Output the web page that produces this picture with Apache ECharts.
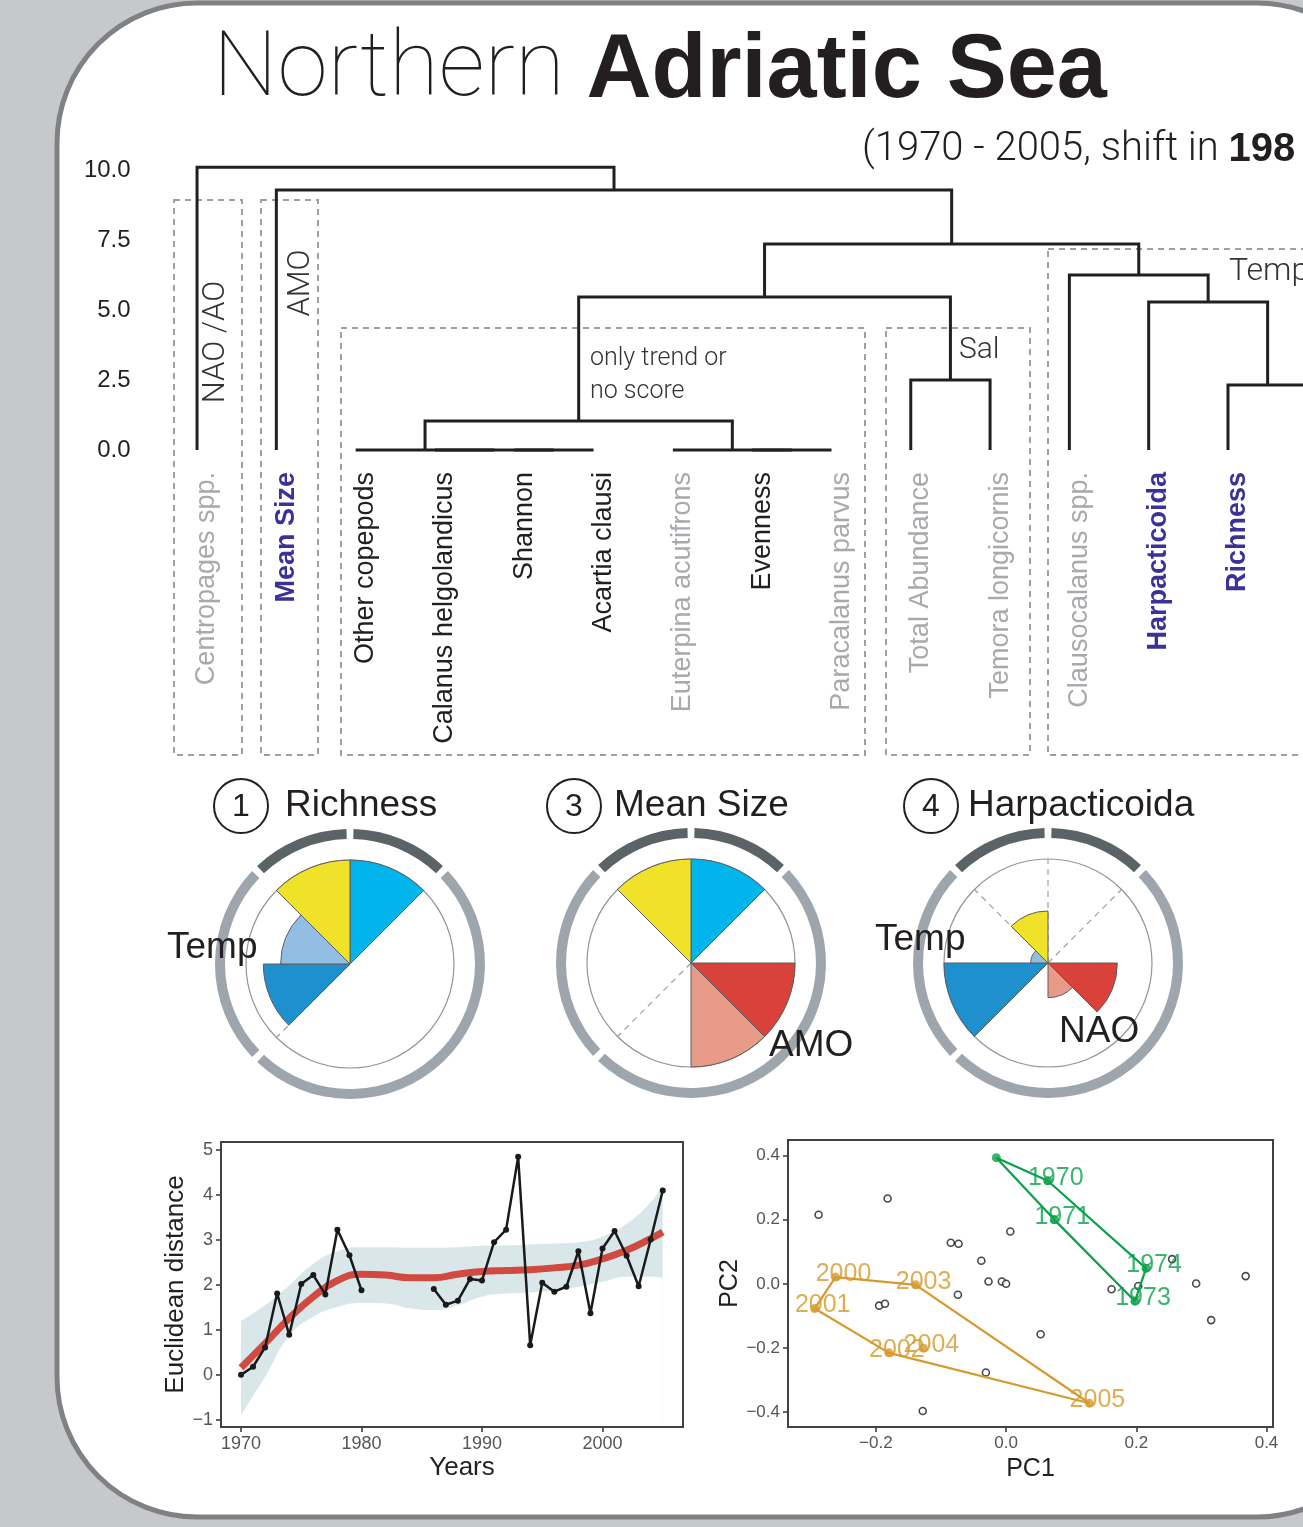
<!DOCTYPE html>
<html>
<head>
<meta charset="utf-8">
<script src="https://cdn.jsdelivr.net/npm/echarts@6/dist/echarts.min.js"></script>
<style>
  html, body { margin: 0; padding: 0; background: #c7c8ca; }
  #main { width: 1303px; height: 1527px; }
</style>
</head>
<body>
<div id="main"></div>
<script>
// ---- dendrogram ----
const leafNames = ['Centropages spp.', 'Mean Size', 'Other copepods', 'Calanus helgolandicus', 'Shannon',
  'Acartia clausi', 'Euterpina acutifrons', 'Evenness', 'Paracalanus parvus', 'Total Abundance',
  'Temora longicornis', 'Clausocalanus spp.', 'Harpacticoida', 'Richness', ''];
const leafKind = ['grey', 'blue', 'black', 'black', 'black', 'black', 'grey', 'black', 'grey', 'grey',
  'grey', 'grey', 'blue', 'blue', 'black'];
// [left, right, height]; numbers are leaves, 'mK' is the K-th merge
const merges = [
  [4, 5, 0], [3, 'm0', 0], [2, 'm1', 0], [7, 8, 0], [6, 'm3', 0],
  ['m2', 'm4', 1.04], [9, 10, 2.5], ['m5', 'm6', 5.46], [13, 14, 2.32], [12, 'm8', 5.29],
  [11, 'm9', 6.25], ['m7', 'm10', 7.36], [1, 'm11', 9.29], [0, 'm12', 10.1]
];
const heightTicks = [0, 2.5, 5, 7.5, 10];

// ---- rose plots (8 sectors clockwise from north, scale 0-6) ----
const roseTitles = ['Richness', 'Mean Size', 'Harpacticoida'];
const roseNumbers = ['1', '3', '4'];
const roseRichness = [6, 0, 0, 0, 0, 5, 4, 6];
const roseMeanSize = [6, 0, 6, 6, 0, 0, 0, 6];
const roseHarpacticoida = [0, 0, 4, 2, 0, 6, 1, 3];
const roseDashed = [[225], [225], [0, 45, 315]];
const ringSectors = [1, 4, 2, 1];

// ---- Euclidean distance ----
const years = [1970, 1971, 1972, 1973, 1974, 1975, 1976, 1977, 1978, 1979, 1980, 1981, 1982, 1983, 1984, 1985,
  1986, 1987, 1988, 1989, 1990, 1991, 1992, 1993, 1994, 1995, 1996, 1997, 1998, 1999, 2000, 2001, 2002, 2003, 2004, 2005];
const distance = [0, 0.18, 0.61, 1.81, 0.89, 2.02, 2.22, 1.79, 3.23, 2.66, 1.88, null, null, null, null, null,
  1.91, 1.56, 1.65, 2.13, 2.10, 2.95, 3.23, 4.85, 0.66, 2.05, 1.85, 1.96, 2.75, 1.37, 2.81, 3.20, 2.65, 1.97, 3.01, 4.10];
const smoothYears = [1970, 1972, 1974, 1976, 1978, 1980, 1982, 1984, 1986, 1988, 1990, 1992, 1994, 1996, 1998, 2000, 2002, 2004, 2005];
const smoothFit = [0.16, 0.70, 1.26, 1.74, 2.10, 2.24, 2.22, 2.16, 2.16, 2.24, 2.30, 2.32, 2.34, 2.38, 2.44, 2.58, 2.77, 3.03, 3.18];
const bandHigh = [1.20, 1.55, 1.99, 2.47, 2.75, 2.84, 2.84, 2.83, 2.83, 2.84, 2.87, 2.88, 2.90, 2.92, 2.95, 3.08, 3.36, 3.84, 4.21];
const bandLow = [-0.89, -0.04, 0.86, 1.29, 1.51, 1.60, 1.59, 1.48, 1.44, 1.55, 1.74, 1.81, 1.83, 1.88, 1.96, 2.07, 2.18, 2.18, 2.16];
const distYTicks = [-1, 0, 1, 2, 3, 4, 5];
const distXTicks = [1970, 1980, 1990, 2000];

// ---- PCA ----
const otherPC = [[-0.288, 0.215], [-0.182, 0.266], [-0.085, 0.128], [-0.073, 0.125], [0.0065, 0.163],
  [-0.038, 0.072], [-0.027, 0.007], [-0.0065, 0.007], [0.0, 0.0], [-0.074, -0.034], [-0.195, -0.068],
  [-0.186, -0.062], [0.053, -0.157], [-0.031, -0.276], [-0.128, -0.396], [0.162, -0.017], [0.203, -0.007],
  [0.255, 0.077], [0.292, 0.001], [0.315, -0.113], [0.368, 0.024]];
const earlyYears = ['1970', '1971', '1972', '1973', '1974'];
const earlyLabels = ['1970', '1971', '', '1973', '1974'];
const earlyPC1 = [0.064, 0.074, -0.015, 0.198, 0.215];
const earlyPC2 = [0.321, 0.200, 0.393, -0.054, 0.048];
const earlyHull = ['1972', '1970', '1974', '1973', '1971'];
const lateYears = ['2000', '2001', '2002', '2003', '2004', '2005'];
const latePC1 = [-0.262, -0.294, -0.180, -0.139, -0.127, 0.128];
const latePC2 = [0.021, -0.077, -0.215, -0.003, -0.201, -0.372];
const lateHull = ['2000', '2003', '2005', '2002', '2001'];
const pcXTicks = [-0.2, 0, 0.2, 0.4];
const pcYTicks = [-0.4, -0.2, 0, 0.2, 0.4];

// ---------------------------------------------------------------
const ink = '#231f20';
const sans = 'Liberation Sans, Arial, sans-serif';
const light = 'Roboto, sans-serif';
const sectorColors = ['#00b5ec', '#cccccc', '#d9423a', '#e99b89', '#cccccc', '#1e90cd', '#93bee3', '#efe228'];
const ringColors = ['#5b6367', '#9ea5ac', '#9ea5ac', '#5b6367'];
const leafColors = { grey: '#a7a9ac', black: ink, blue: '#3b3199' };
const fmtMinus = (v, d) => (v < 0 ? '\u2212' : '') + Math.abs(v).toFixed(d);

// dendrogram links from the merge table
const nodes = [];
const nodeOf = r => (typeof r === 'number' ? { x: r, h: 0 } : nodes[+r.slice(1)]);
const dendroLinks = merges.map(([a, b, h]) => {
  const A = nodeOf(a), B = nodeOf(b);
  nodes.push({ x: (A.x + B.x) / 2, h });
  return { coords: [[A.x, A.h], [A.x, h], [B.x, h], [B.x, B.h]] };
});

const roses = [roseRichness, roseMeanSize, roseHarpacticoida];
const roseCenters = [[350, 964], [691, 963], [1048, 963]];
const titleCircles = [[241, 806], [574, 806], [931, 806]];
const titleLeft = [285, 614, 968];

const polar = [], angleAxis = [], radiusAxis = [], series = [];
const hidden = { axisLine: { show: false }, axisTick: { show: false }, axisLabel: { show: false }, splitLine: { show: false } };

roses.forEach((vals, k) => {
  polar.push({ center: roseCenters[k], radius: 104 });
  angleAxis.push(Object.assign({}, hidden, {
    polarIndex: k, type: 'category', data: vals.map((_, i) => 's' + i), startAngle: 90, clockwise: true,
    axisLine: { show: true, lineStyle: { color: '#8f959a', width: 1.2 } }
  }));
  radiusAxis.push(Object.assign({}, hidden, { polarIndex: k, type: 'value', min: 0, max: 6 }));
});
roses.forEach((vals, k) => {
  polar.push({ center: roseCenters[k], radius: 104 });
  angleAxis.push(Object.assign({}, hidden, { polarIndex: k + 3, type: 'value', min: 0, max: 360, startAngle: 90, clockwise: true }));
  radiusAxis.push(Object.assign({}, hidden, { polarIndex: k + 3, type: 'value', min: 0, max: 6 }));
});

roses.forEach((vals, k) => {
  roseDashed[k].forEach(a => {
    series.push({
      type: 'line', coordinateSystem: 'polar', polarIndex: k + 3, silent: true, symbol: 'none', z: 1,
      data: [[0, a], [6, a]], lineStyle: { color: '#9a9ea3', width: 1.2, type: [6, 5] }
    });
  });
  series.push({
    type: 'bar', coordinateSystem: 'polar', polarIndex: k, silent: true, barCategoryGap: '0%',
    data: vals.map((v, i) => ({ value: v, itemStyle: { color: sectorColors[i] } })),
    itemStyle: { borderColor: '#5d5d5d', borderWidth: 1 }
  });
  series.push({
    type: 'pie', silent: true, center: roseCenters[k], radius: [125, 135], startAngle: 90, padAngle: 3,
    label: { show: false }, labelLine: { show: false },
    data: ringSectors.map((v, i) => ({ value: v, itemStyle: { color: ringColors[i] } }))
  });
});

// dendrogram
series.push({
  type: 'lines', coordinateSystem: 'cartesian2d', xAxisIndex: 0, yAxisIndex: 0, polyline: true, silent: true, clip: false,
  data: dendroLinks, lineStyle: { color: ink, width: 3, opacity: 1 }
});

// distance over time: band drawn as upper fill minus white lower fill
series.push({
  type: 'line', xAxisIndex: 1, yAxisIndex: 1, smooth: true, symbol: 'none', silent: true,
  data: smoothYears.map((y, i) => [y, bandHigh[i]]), lineStyle: { width: 0 },
  areaStyle: { color: '#d9e7eb', opacity: 1, origin: 'start' }
});
series.push({
  type: 'line', xAxisIndex: 1, yAxisIndex: 1, smooth: true, symbol: 'none', silent: true,
  data: smoothYears.map((y, i) => [y, bandLow[i]]), lineStyle: { width: 0 },
  areaStyle: { color: '#ffffff', opacity: 1, origin: 'start' }
});
series.push({
  type: 'line', xAxisIndex: 1, yAxisIndex: 1, smooth: true, symbol: 'none', silent: true,
  data: smoothYears.map((y, i) => [y, smoothFit[i]]), lineStyle: { color: '#d04a40', width: 7 }
});
series.push({
  type: 'line', xAxisIndex: 1, yAxisIndex: 1, silent: true, connectNulls: false,
  data: years.map((y, i) => [y, distance[i] == null ? '-' : distance[i]]),
  symbol: 'circle', symbolSize: 6, itemStyle: { color: '#1a1a1a' }, lineStyle: { color: '#1a1a1a', width: 2.5 }
});

// PCA
const hullData = (names, ids, p1, p2) => {
  const pts = names.map(n => [p1[ids.indexOf(n)], p2[ids.indexOf(n)]]);
  return pts.concat([pts[0]]);
};
const pcaGroup = (ids, labels, p1, p2, hull, color) => {
  series.push({
    type: 'line', xAxisIndex: 2, yAxisIndex: 2, silent: true, symbol: 'none',
    data: hullData(hull, ids, p1, p2), lineStyle: { color, width: 2.2 }
  });
  series.push({
    type: 'scatter', xAxisIndex: 2, yAxisIndex: 2, silent: true, symbolSize: 9,
    data: ids.map((n, i) => ({ value: [p1[i], p2[i]], name: labels[i] })),
    itemStyle: { color },
    label: { show: true, position: 'inside', offset: [8, -3], formatter: '{b}', color, fontSize: 25, fontFamily: sans }
  });
};
series.push({
  type: 'scatter', xAxisIndex: 2, yAxisIndex: 2, silent: true, symbolSize: 7, data: otherPC,
  itemStyle: { color: '#ffffff', borderColor: '#1a1a1a', borderWidth: 1.6 }
});
pcaGroup(earlyYears, earlyLabels, earlyPC1, earlyPC2, earlyHull, '#0ba04b');
pcaGroup(lateYears, lateYears, latePC1, latePC2, lateHull, '#d69a2d');

// axes
const noLine = { show: false, onZero: false };
const tickStyle = vals => ({ show: true, customValues: vals, length: 5, lineStyle: { color: '#333', width: 1.5 } });
const xAxis = [
  {
    gridIndex: 0, type: 'value', min: -0.8, max: 13.946, axisLine: noLine, axisTick: { show: false }, splitLine: { show: false },
    axisLabel: {
      customValues: leafNames.map((_, i) => i).slice(0, 14), rotate: 90, margin: 22, padding: [20, 0, 0, 0],
      formatter: v => leafNames[v] ? '{' + leafKind[v] + '|' + leafNames[v] + '}' : '',
      rich: {
        grey: { color: leafColors.grey, fontSize: 27, fontFamily: sans },
        black: { color: leafColors.black, fontSize: 27, fontFamily: sans },
        blue: { color: leafColors.blue, fontSize: 27, fontFamily: sans, fontWeight: 'bold' }
      }
    }
  },
  {
    gridIndex: 1, type: 'value', min: 1968.34, max: 2006.68, axisLine: noLine, splitLine: { show: false },
    axisTick: tickStyle(distXTicks),
    axisLabel: { customValues: distXTicks, formatter: v => String(v), color: '#555', fontSize: 18, fontFamily: sans, margin: 8 },
    name: 'Years', nameLocation: 'middle', nameGap: 28,
    nameTextStyle: { color: ink, fontSize: 26, fontFamily: sans, padding: [0, 0, 0, 20] }
  },
  {
    gridIndex: 2, type: 'value', min: -0.335, max: 0.41, axisLine: noLine, splitLine: { show: false },
    axisTick: tickStyle(pcXTicks),
    axisLabel: { customValues: pcXTicks, formatter: v => fmtMinus(v, 1), color: '#555', fontSize: 17, fontFamily: sans, margin: 8 },
    name: 'PC1', nameLocation: 'middle', nameGap: 30,
    nameTextStyle: { color: ink, fontSize: 25, fontFamily: sans }
  }
];
const yAxis = [
  {
    gridIndex: 0, type: 'value', min: 0, max: 10.5, axisLine: noLine, axisTick: { show: false }, splitLine: { show: false },
    axisLabel: { customValues: heightTicks, formatter: v => v.toFixed(1), color: ink, fontSize: 24, fontFamily: sans, margin: 3 }
  },
  {
    gridIndex: 1, type: 'value', min: -1.16, max: 5.18, axisLine: noLine, splitLine: { show: false },
    axisTick: tickStyle(distYTicks),
    axisLabel: { customValues: distYTicks, formatter: v => fmtMinus(v, 0), color: '#555', fontSize: 18, fontFamily: sans, margin: 8 },
    name: 'Euclidean distance', nameLocation: 'middle', nameGap: 31, nameRotate: 90,
    nameTextStyle: { color: ink, fontSize: 26, fontFamily: sans }
  },
  {
    gridIndex: 2, type: 'value', min: -0.446, max: 0.448, axisLine: noLine, splitLine: { show: false },
    axisTick: tickStyle(pcYTicks),
    axisLabel: { customValues: pcYTicks, formatter: v => fmtMinus(v, 1), color: '#555', fontSize: 17, fontFamily: sans, margin: 8 },
    name: 'PC2', nameLocation: 'middle', nameGap: 40, nameRotate: 90,
    nameTextStyle: { color: ink, fontSize: 25, fontFamily: sans }
  }
];

// annotations
const dashedBox = (x, y, w, h) => ({
  type: 'rect', shape: { x, y, width: w, height: h }, silent: true,
  style: { fill: 'none', stroke: '#9d9fa2', lineWidth: 2, lineDash: [6, 5] }
});
const txt = (x, y, text, size, extra, rotation) => ({
  type: 'text', x, y, silent: true, z: 100, rotation: rotation || 0,
  style: Object.assign({ text, fontSize: size, fontFamily: sans, fill: ink, verticalAlign: 'middle', align: 'left' }, extra || {})
});
const lightText = { fontFamily: light, fontWeight: 300, fill: '#333' };
const graphic = [
  { type: 'rect', z: -100, silent: true, shape: { x: 57, y: 3, width: 1340, height: 1514, r: 140 },
    style: { fill: '#ffffff', stroke: '#808184', lineWidth: 5 } },
  { type: 'text', x: 213, y: 72, silent: true, style: {
      text: '{l|Northern }{b|Adriatic Sea}', verticalAlign: 'middle',
      rich: { l: { fontFamily: light, fontWeight: 100, fontSize: 91, fill: ink }, b: { fontFamily: sans, fontWeight: 'bold', fontSize: 90, fill: ink } } } },
  { type: 'text', x: 862, y: 150, silent: true, style: {
      text: '{l|(1970 - 2005, shift in }{b|198}', verticalAlign: 'middle',
      rich: { l: { fontFamily: light, fontWeight: 300, fontSize: 40, fill: ink }, b: { fontFamily: sans, fontWeight: 'bold', fontSize: 40, fill: ink } } } },
  dashedBox(174, 200, 68, 555), dashedBox(261, 200, 57, 555), dashedBox(341, 328, 524, 427),
  dashedBox(886, 328, 144, 427), dashedBox(1048, 249, 400, 506),
  txt(216, 342, 'NAO /AO', 31, Object.assign({ align: 'center' }, lightText), Math.PI / 2),
  txt(301, 283, 'AMO', 31, Object.assign({ align: 'center' }, lightText), Math.PI / 2),
  txt(590, 359, 'only trend or', 25, lightText),
  txt(590, 392, 'no score', 25, lightText),
  txt(959, 350, 'Sal', 30, lightText),
  txt(1229, 272, 'Temp', 32, lightText),
  txt(167, 948, 'Temp', 37), txt(769, 1046, 'AMO', 37), txt(875, 940, 'Temp', 37), txt(1059, 1032, 'NAO', 37)
];
titleCircles.forEach((c, k) => {
  graphic.push({ type: 'circle', silent: true, shape: { cx: c[0], cy: c[1], r: 27 }, style: { fill: 'none', stroke: ink, lineWidth: 2 } });
  graphic.push(txt(c[0], c[1] + 1, roseNumbers[k], 32, { align: 'center' }));
  graphic.push(txt(titleLeft[k], c[1], roseTitles[k], 37));
});

const chart = echarts.init(document.getElementById('main'));
chart.setOption({
  backgroundColor: '#c7c8ca',
  animation: false,
  graphic,
  grid: [
    { left: 133.6, right: 0, top: 156, height: 294 },
    { left: 221, top: 1142, width: 462, height: 285, show: true, z: 5, borderColor: '#3d4346', borderWidth: 2, backgroundColor: 'transparent' },
    { left: 788, top: 1140, width: 485, height: 287, show: true, z: 5, borderColor: '#3d4346', borderWidth: 2, backgroundColor: 'transparent' }
  ],
  xAxis, yAxis, polar, angleAxis, radiusAxis, series
});
</script>
</body>
</html>
